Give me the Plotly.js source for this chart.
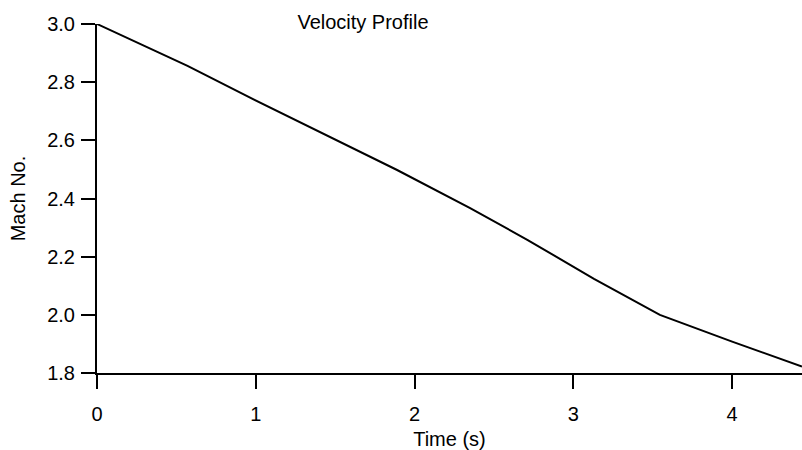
<!DOCTYPE html>
<html>
<head>
<meta charset="utf-8">
<script src="https://cdn.plot.ly/plotly-3.0.1.min.js"></script>
<style>
  html, body { margin: 0; padding: 0; background: #fff; }
  #chart { width: 802px; height: 450px; }
</style>
</head>
<body>
<div id="chart"></div>
<script>
// Time (s)
const timeS = [0, 0.57, 0.93, 1.25, 1.57, 1.89, 2.35, 2.71, 3.13, 3.545, 4.0, 4.44];
// Mach number
const machNo = [3.0, 2.856, 2.756, 2.670, 2.584, 2.498, 2.367, 2.258, 2.124, 2.0, 1.908, 1.822];

const chartTitle = 'Velocity Profile';
const xTitle = 'Time (s)';
const yTitle = 'Mach No.';

const fontFam = '"Liberation Sans", Arial, sans-serif';
const fs = 20;

const trace = {
  x: timeS,
  y: machNo,
  type: 'scatter',
  mode: 'lines',
  line: { color: '#000', width: 2 },
  cliponaxis: false,
  hoverinfo: 'x+y'
};

const layout = {
  width: 802,
  height: 450,
  paper_bgcolor: '#fff',
  plot_bgcolor: '#fff',
  showlegend: false,
  margin: { l: 97, r: 0, t: 24, b: 77, pad: 0 },
  font: { family: fontFam, size: fs, color: '#000' },
  title: {
    text: chartTitle,
    font: { family: fontFam, size: fs, color: '#000' },
    x: 0.4526, xref: 'container', xanchor: 'center',
    y: 0.951, yref: 'container', yanchor: 'middle'
  },
  xaxis: {
    range: [0, 4.44],
    tickmode: 'linear', tick0: 0, dtick: 1,
    showgrid: false, zeroline: false,
    showline: true, linecolor: '#000', linewidth: 2,
    ticks: 'outside', ticklen: 14, tickwidth: 2, tickcolor: '#000',
    ticklabelstandoff: 8,
    tickfont: { family: fontFam, size: fs, color: '#000' },
    title: { text: xTitle, font: { family: fontFam, size: fs, color: '#000' }, standoff: 12 },
    automargin: false
  },
  yaxis: {
    range: [1.8, 3.0],
    tickmode: 'linear', tick0: 1.8, dtick: 0.2,
    tickformat: '.1f',
    showgrid: false, zeroline: false,
    showline: true, linecolor: '#000', linewidth: 2,
    ticks: 'outside', ticklen: 14, tickwidth: 2, tickcolor: '#000',
    ticklabelstandoff: 2,
    tickfont: { family: fontFam, size: fs, color: '#000' },
    title: { text: yTitle, font: { family: fontFam, size: fs, color: '#000' }, standoff: 16 },
    automargin: false
  }
};

Plotly.newPlot('chart', [trace], layout, { staticPlot: true, displayModeBar: false });
</script>
</body>
</html>
